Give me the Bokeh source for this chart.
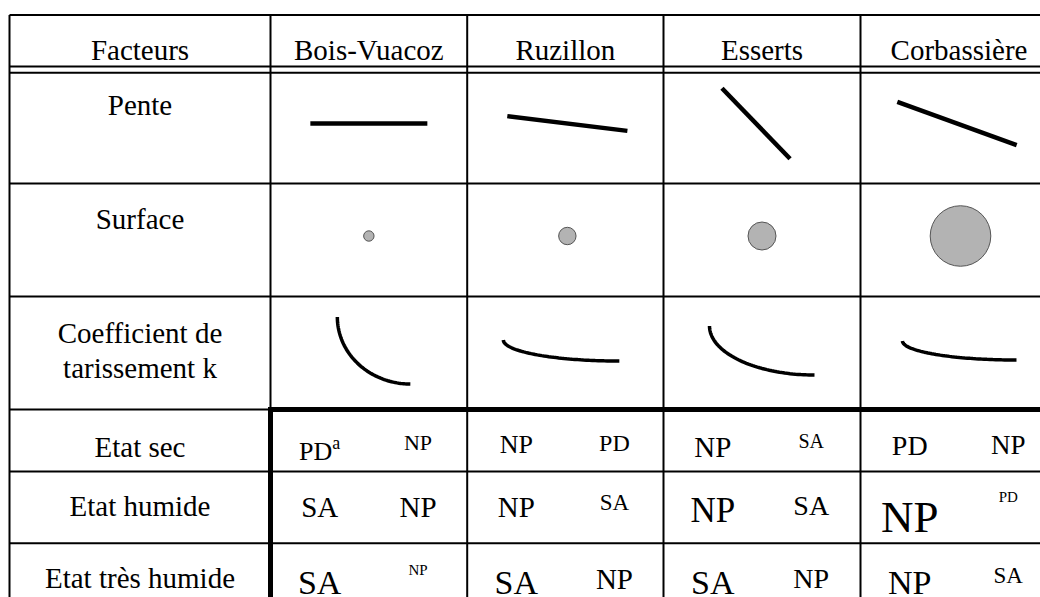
import math
from bokeh.plotting import figure
from bokeh.models import Range1d, ColumnDataSource
from bokeh.embed import file_html
from bokeh.resources import INLINE
from bokeh.core.properties import value

# ---------------- data ----------------
sites = ["Bois-Vuacoz", "Ruzillon", "Esserts", "Corbassière"]
factor_header = "Facteurs"
factor_labels = ["Pente", "Surface", "Coefficient de", "tarissement k",
                 "Etat sec", "Etat humide", "Etat très humide"]

pente_deg = [0, 7, 46, 20]            # slope drawn as angle
surface_r = [5.2, 8.7, 14.0, 30.3]    # relative catchment surface (circle radius)
k_span = [73, 116, 105, 114]          # recession curve horizontal extent
k_drop = [67, 21, 49, 19]             # recession curve drop

sec_first = ["PD", "NP", "NP", "PD"]
sec_first_px = [26, 26, 29, 28]
sec_first_note = ["a", "", "", ""]
sec_second = ["NP", "PD", "SA", "NP"]
sec_second_px = [22, 24, 20, 27]
humide_first = ["SA", "NP", "NP", "NP"]
humide_first_px = [29, 29, 35, 45]
humide_second = ["NP", "SA", "SA", "PD"]
humide_second_px = [29, 23, 28, 15]
tres_first = ["SA", "SA", "SA", "NP"]
tres_first_px = [34, 34, 34, 34]
tres_second = ["NP", "NP", "NP", "SA"]
tres_second_px = [15, 29, 28, 23]

# ---------------- layout ----------------
FONT = value("Liberation Serif")
LABEL_PX = 29
CAP = 0.66
col_edges = [9, 270, 466.7, 663, 860, 1057]
row_top, head_b1, head_b2 = 14.5, 66, 72.3
row_lines = [183, 296, 409, 471, 542.7]
bottom = 600
state_cap_top = [427, 487, 559.5]

col_left = col_edges[1:-1]
col_w = [col_edges[i + 2] - col_edges[i + 1] for i in range(4)]
col_c = [col_left[i] + col_w[i] / 2 for i in range(4)]

pente_len = [117, 121, 98, 127]
pente_dx = [0, 2, -6, -2]
pente_y = 123
surf_dx = [0, 2, 0, 1.5]
surf_y = 235.5
k_dx = [5, -4, 0, 0.5]
k_mid_y = 350

p = figure(width=1040, height=597, x_range=Range1d(0, 1040), y_range=Range1d(597, 0),
           x_axis_type=None, y_axis_type=None, toolbar_location=None,
           output_backend="svg", min_border=0, outline_line_color=None,
           background_fill_color="white", border_fill_color="white")
p.grid.visible = False

# thin grid lines
hx0, hx1, hy = [], [], []
for y in [row_top, head_b1, head_b2] + row_lines:
    hx0.append(col_edges[0])
    hx1.append(col_edges[1] if y == 409 else col_edges[-1])
    hy.append(y)
vx, vy0, vy1 = [], [], []
for i, x in enumerate(col_edges[:-1]):
    vx.append(x)
    vy0.append(row_top)
    vy1.append(409 if i == 1 else bottom)
p.segment(x0=hx0, y0=hy, x1=hx1, y1=hy, line_color="black", line_width=2)
p.segment(x0=vx, y0=vy0, x1=vx, y1=vy1, line_color="black", line_width=2)
# thick frame around state block
p.segment(x0=[col_edges[1] - 2.5, col_edges[1]], y0=[409, 406.5],
          x1=[col_edges[-1], col_edges[1]], y1=[409, bottom],
          line_color="black", line_width=5)

# header texts
p.text(x=[(col_edges[0] + col_edges[1]) / 2] + col_c, y=[49.3] * 5,
       text=[factor_header] + sites, text_font=FONT, text_font_size=f"{LABEL_PX}px",
       text_align="center", text_baseline="alphabetic", text_color="black")
# row labels
label_base = [104.5, 218.5, 332, 367, 446, 505.5, 577.5]
p.text(x=[(col_edges[0] + col_edges[1]) / 2] * len(factor_labels), y=label_base,
       text=factor_labels, text_font=FONT, text_font_size=f"{LABEL_PX}px",
       text_align="center", text_baseline="alphabetic", text_color="black")

# pente
px0, py0, px1, py1 = [], [], [], []
for i in range(4):
    a = math.radians(pente_deg[i])
    cx = col_c[i] + pente_dx[i]
    hl = pente_len[i] / 2
    px0.append(cx - hl * math.cos(a)); py0.append(pente_y - hl * math.sin(a))
    px1.append(cx + hl * math.cos(a)); py1.append(pente_y + hl * math.sin(a))
p.segment(x0=px0, y0=py0, x1=px1, y1=py1, line_color="black", line_width=4.5,
          line_cap="butt")

# surface
p.circle(x=[col_c[i] + surf_dx[i] for i in range(4)], y=[surf_y] * 4, radius=surface_r,
         fill_color="#b3b3b3", line_color="#555555", line_width=1)

# recession curves (quarter ellipses)
xs, ys = [], []
for i in range(4):
    x0 = col_c[i] + k_dx[i] - k_span[i] / 2
    y0 = k_mid_y - k_drop[i] / 2
    ts = [j / 60 * math.pi / 2 for j in range(61)]
    xs.append([x0 + k_span[i] * (1 - math.cos(t)) for t in ts])
    ys.append([y0 + k_drop[i] * math.sin(t) for t in ts])
p.multi_line(xs=xs, ys=ys, line_color="black", line_width=3.5, line_cap="butt")

# state entries
adv = {"P": 0.556, "D": 0.722, "N": 0.722, "S": 0.556, "A": 0.722, "a": 0.444}
tx, ty, tt, tf, ta = [], [], [], [], []
rows = [(sec_first, sec_first_px, sec_second, sec_second_px, sec_first_note),
        (humide_first, humide_first_px, humide_second, humide_second_px, [""] * 4),
        (tres_first, tres_first_px, tres_second, tres_second_px, [""] * 4)]
for r, (f, fpx, s, spx, notes) in enumerate(rows):
    for i in range(4):
        xl = col_left[i] + col_w[i] / 4
        xr = col_left[i] + 3 * col_w[i] / 4
        base = state_cap_top[r] + CAP * fpx[i]
        if notes[i]:
            sup_px = round(fpx[i] * 0.68)
            w1 = sum(adv[c] for c in f[i]) * fpx[i]
            w2 = sum(adv[c] for c in notes[i]) * sup_px
            left = xl - (w1 + w2) / 2
            base += 0.26 * fpx[i]
            tx += [left, left + w1]; ty += [base, base - 0.34 * fpx[i]]
            tt += [f[i], notes[i]]; tf += [f"{fpx[i]}px", f"{sup_px}px"]
            ta += ["left", "left"]
        else:
            tx.append(xl); ty.append(base); tt.append(f[i]); tf.append(f"{fpx[i]}px")
            ta.append("center")
        tx.append(xr); ty.append(state_cap_top[r] + CAP * spx[i]); tt.append(s[i])
        tf.append(f"{spx[i]}px"); ta.append("center")
src = ColumnDataSource(dict(x=tx, y=ty, t=tt, fs=tf, al=ta))
p.text(x="x", y="y", text="t", text_font_size="fs", text_align="al", source=src,
       text_font=FONT, text_baseline="alphabetic", text_color="black")

open("out.html", "w").write(file_html(p, INLINE))
